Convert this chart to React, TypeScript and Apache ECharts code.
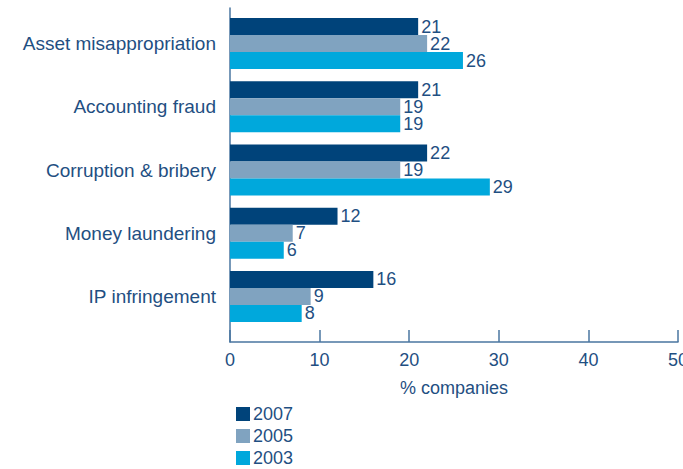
import React, { useEffect, useRef } from "react";
import * as echarts from "echarts";

const categories = [
  "Asset misappropriation",
  "Accounting fraud",
  "Corruption & bribery",
  "Money laundering",
  "IP infringement",
];
const years = ["2007", "2005", "2003"];
const values2007 = [21, 21, 22, 12, 16];
const values2005 = [22, 19, 19, 7, 9];
const values2003 = [26, 19, 29, 6, 8];
const xTicks = [0, 10, 20, 30, 40, 50];

const colors = ["#00437a", "#80a3c0", "#00a8dc"];
const textColor = "#1f4f82";
const axisColor = "#4a76a0";
const font = "Liberation Sans, Arial, Helvetica, sans-serif";

export default function App() {
  const ref = useRef<HTMLDivElement>(null);
  useEffect(() => {
    if (!ref.current) return;
    const chart = echarts.init(ref.current, null, { renderer: "svg" });
    const seriesData = [values2007, values2005, values2003];
    chart.setOption({
      animation: false,
      textStyle: { fontFamily: font },
      grid: [
        { left: 230, right: 5, top: 8, bottom: 127, outerBoundsMode: "none", containLabel: false },
        { left: 230, right: 5, top: 12, height: 316, outerBoundsMode: "none", containLabel: false },
      ],
      legend: {
        orient: "vertical",
        left: 231,
        top: 400,
        height: 80,
        itemWidth: 14,
        itemHeight: 14,
        itemGap: 4,
        icon: "rect",
        data: years,
        textStyle: { color: textColor, fontSize: 18, fontFamily: font, padding: [0, 0, 0, -2] },
      },
      xAxis: [
        {
          type: "value",
          gridIndex: 0,
          min: xTicks[0],
          max: xTicks[xTicks.length - 1],
          interval: 10,
          name: "% companies",
          nameLocation: "middle",
          nameGap: 37,
          nameTextStyle: { color: textColor, fontSize: 18, fontFamily: font },
          axisLine: { show: true, lineStyle: { color: axisColor, width: 1.5 } },
          axisTick: { show: true, inside: true, length: 12, lineStyle: { color: axisColor, width: 1.5 } },
          axisLabel: { color: textColor, fontSize: 18, margin: 9, fontFamily: font, hideOverlap: false },
          splitLine: { show: false },
        },
        {
          type: "value",
          gridIndex: 1,
          min: 0,
          max: 50,
          show: false,
        },
      ],
      yAxis: [
        {
          type: "value",
          gridIndex: 0,
          axisLine: { show: true, lineStyle: { color: axisColor, width: 1.5 } },
          axisTick: { show: false },
          axisLabel: { show: false },
          splitLine: { show: false },
        },
        {
          type: "category",
          gridIndex: 1,
          data: categories,
          inverse: true,
          axisLine: { show: false },
          axisTick: { show: false },
          axisLabel: { color: textColor, fontSize: 19, margin: 14, fontFamily: font },
        },
      ],
      series: years.map((y, i) => ({
        name: y,
        type: "bar",
        xAxisIndex: 1,
        yAxisIndex: 1,
        data: seriesData[i],
        barWidth: 17,
        barGap: "0%",
        itemStyle: { color: colors[i] },
        label: {
          show: true,
          position: "right",
          distance: 3,
          color: textColor,
          fontSize: 18,
          fontFamily: font,
        },
      })),
    });
    return () => chart.dispose();
  }, []);
  return (
    <div
      ref={ref}
      style={{ position: "fixed", left: 0, top: 0, width: 683, height: 469, background: "#fff" }}
    />
  );
}
